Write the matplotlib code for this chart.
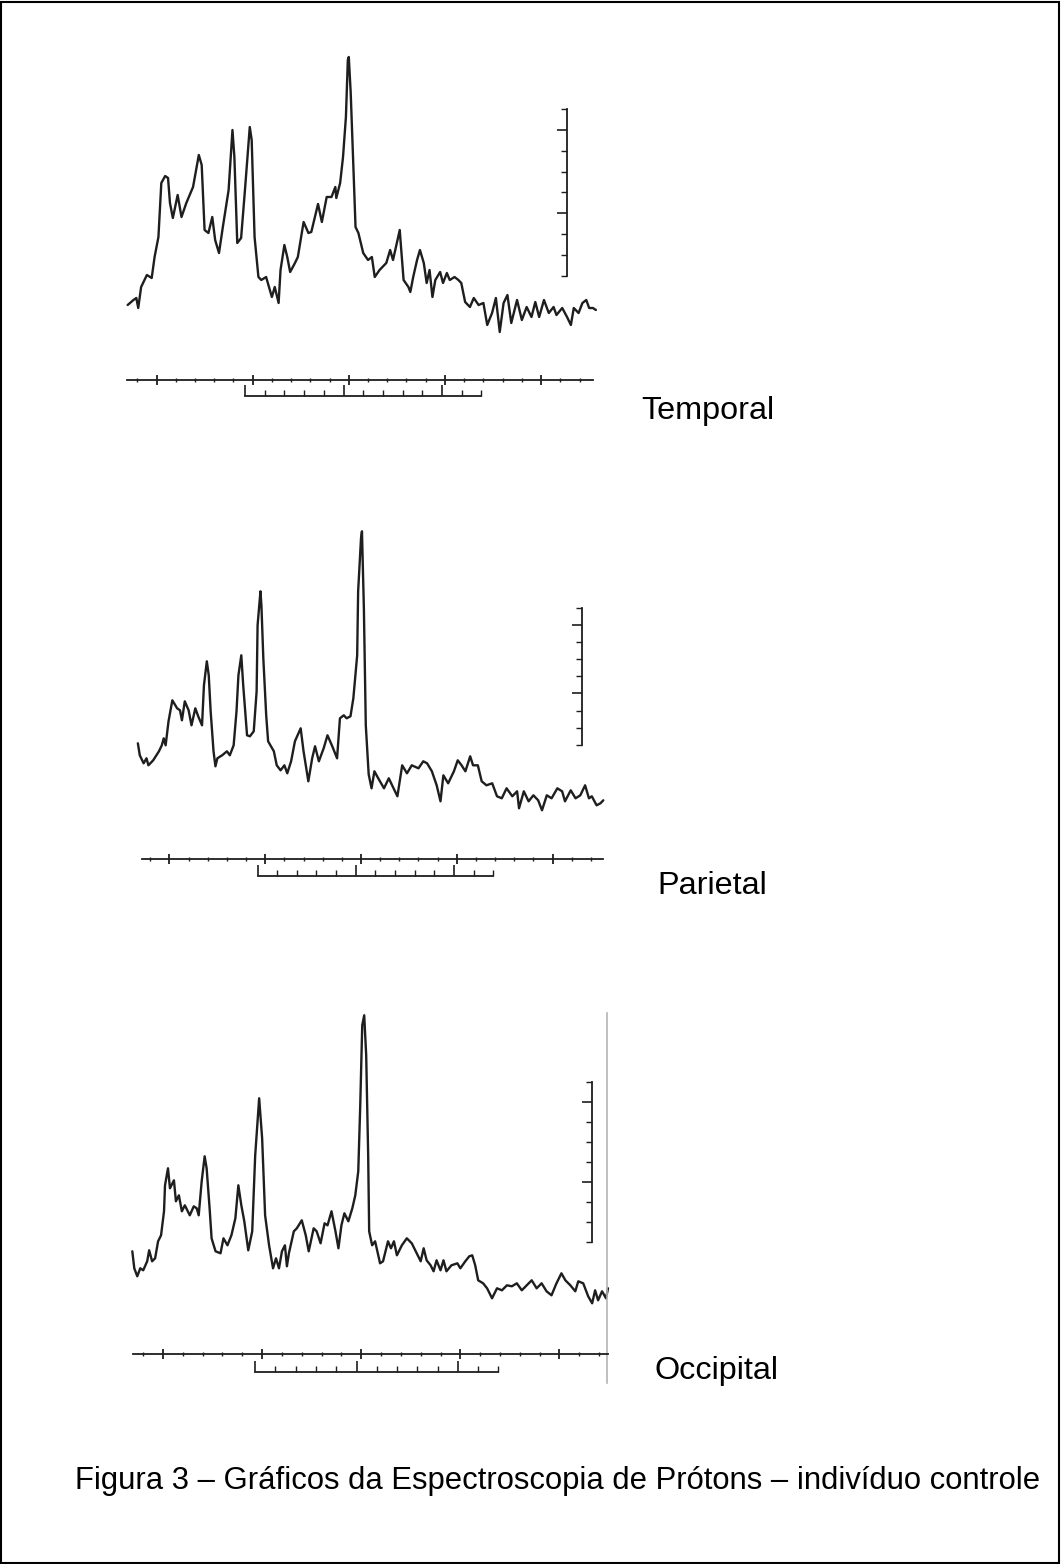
import numpy as np
import matplotlib.pyplot as plt
from matplotlib.patches import Rectangle

plt.rcParams['font.family'] = ['Liberation Sans', 'DejaVu Sans']

# ---- spectra: (ppm, intensity in a.u.) ----
temporal = np.array([
    (4.30, 75), (4.24, 80), (4.21, 82), (4.19, 72), (4.16, 93), (4.10, 105), (4.05, 102),
    (4.02, 123), (3.98, 143), (3.95, 197), (3.91, 204), (3.88, 202), (3.86, 177), (3.83, 162),
    (3.78, 185), (3.74, 163), (3.69, 177), (3.62, 193), (3.56, 225), (3.53, 215), (3.50, 150),
    (3.46, 147), (3.42, 163), (3.39, 140), (3.35, 127), (3.31, 153), (3.25, 190), (3.21, 250),
    (3.19, 223), (3.16, 137), (3.12, 142), (3.08, 190), (3.03, 253), (3.01, 240), (2.98, 143),
    (2.94, 103), (2.91, 100), (2.86, 103), (2.80, 83), (2.77, 93), (2.73, 77), (2.71, 110),
    (2.67, 135), (2.64, 123), (2.61, 108), (2.56, 117), (2.53, 123), (2.47, 158), (2.42, 147),
    (2.39, 148), (2.32, 176), (2.28, 158), (2.23, 183), (2.18, 183), (2.14, 193), (2.13, 182),
    (2.09, 197), (2.06, 223), (2.03, 263), (2.01, 320), (2.00, 323), (1.98, 287), (1.95, 207),
    (1.93, 153), (1.90, 147), (1.85, 127), (1.80, 120), (1.76, 123), (1.73, 103), (1.68, 110),
    (1.61, 117), (1.57, 130), (1.54, 120), (1.47, 150), (1.46, 137), (1.43, 100), (1.38, 93),
    (1.36, 88), (1.33, 103), (1.29, 120), (1.26, 130), (1.22, 117), (1.19, 97), (1.16, 110),
    (1.13, 83), (1.10, 100), (1.05, 108), (1.02, 97), (0.98, 107), (0.95, 100), (0.90, 103),
    (0.86, 100), (0.83, 97), (0.79, 78), (0.74, 73), (0.70, 82), (0.65, 75), (0.60, 77),
    (0.56, 55), (0.51, 67), (0.47, 82), (0.43, 48), (0.39, 77), (0.35, 85), (0.31, 57),
    (0.25, 80), (0.20, 60), (0.15, 73), (0.10, 63), (0.06, 78), (0.02, 63), (-0.03, 80),
    (-0.08, 67), (-0.13, 73), (-0.16, 65), (-0.22, 72), (-0.27, 63), (-0.31, 55), (-0.34, 72),
    (-0.39, 67), (-0.43, 77), (-0.47, 80), (-0.50, 72), (-0.54, 72), (-0.57, 70),
])

parietal = np.array([
    (4.33, 116), (4.31, 104), (4.27, 96), (4.24, 101), (4.22, 94), (4.17, 99), (4.11, 108),
    (4.08, 114), (4.06, 121), (4.04, 114), (4.01, 138), (3.97, 159), (3.92, 151), (3.89, 149),
    (3.87, 139), (3.84, 158), (3.80, 149), (3.77, 134), (3.73, 151), (3.70, 143), (3.66, 134),
    (3.64, 174), (3.61, 198), (3.59, 184), (3.57, 148), (3.54, 108), (3.52, 93), (3.50, 101),
    (3.45, 104), (3.40, 108), (3.37, 104), (3.33, 114), (3.30, 148), (3.28, 184), (3.25, 204),
    (3.23, 174), (3.19, 124), (3.16, 123), (3.12, 128), (3.09, 168), (3.08, 234), (3.05, 268),
    (3.04, 254), (3.02, 201), (2.99, 144), (2.97, 118), (2.91, 108), (2.88, 94), (2.84, 89),
    (2.80, 94), (2.77, 86), (2.73, 98), (2.69, 118), (2.63, 131), (2.60, 108), (2.55, 78),
    (2.51, 101), (2.48, 113), (2.44, 98), (2.39, 111), (2.35, 124), (2.30, 113), (2.25, 101),
    (2.22, 141), (2.18, 144), (2.15, 141), (2.11, 143), (2.08, 161), (2.04, 204), (2.03, 268),
    (2.00, 321), (1.99, 328), (1.97, 251), (1.95, 134), (1.92, 85), (1.89, 71), (1.86, 88),
    (1.82, 81), (1.76, 71), (1.71, 81), (1.66, 71), (1.62, 63), (1.57, 94), (1.52, 86),
    (1.47, 94), (1.40, 91), (1.35, 98), (1.31, 96), (1.26, 88), (1.21, 74), (1.17, 58),
    (1.14, 84), (1.09, 76), (1.03, 88), (0.99, 99), (0.95, 94), (0.91, 88), (0.86, 103),
    (0.83, 94), (0.78, 94), (0.74, 78), (0.69, 74), (0.63, 76), (0.58, 63), (0.53, 61),
    (0.48, 71), (0.42, 63), (0.37, 68), (0.35, 51), (0.30, 68), (0.25, 58), (0.20, 64),
    (0.15, 59), (0.11, 49), (0.06, 64), (0.01, 61), (-0.05, 71), (-0.10, 68), (-0.13, 58),
    (-0.19, 69), (-0.24, 61), (-0.29, 64), (-0.34, 74), (-0.38, 61), (-0.41, 63), (-0.46, 54),
    (-0.50, 56), (-0.53, 59),
])

occipital = np.array([
    (4.31, 103), (4.29, 86), (4.26, 78), (4.23, 86), (4.20, 84), (4.16, 93), (4.14, 104),
    (4.11, 93), (4.08, 96), (4.05, 113), (4.02, 119), (3.99, 143), (3.98, 169), (3.95, 186),
    (3.93, 166), (3.89, 174), (3.87, 153), (3.84, 159), (3.81, 143), (3.78, 149), (3.73, 139),
    (3.69, 148), (3.66, 146), (3.64, 139), (3.61, 173), (3.58, 198), (3.56, 186), (3.53, 146),
    (3.51, 116), (3.47, 103), (3.42, 101), (3.39, 116), (3.35, 109), (3.31, 119), (3.27, 136),
    (3.24, 169), (3.21, 149), (3.18, 133), (3.14, 104), (3.10, 123), (3.07, 199), (3.03, 256),
    (3.00, 216), (2.97, 139), (2.93, 109), (2.89, 86), (2.86, 96), (2.83, 86), (2.80, 103),
    (2.77, 109), (2.75, 88), (2.73, 101), (2.68, 123), (2.65, 126), (2.60, 134), (2.56, 119),
    (2.53, 103), (2.48, 126), (2.45, 123), (2.41, 111), (2.37, 131), (2.34, 129), (2.30, 143),
    (2.26, 123), (2.23, 106), (2.20, 129), (2.17, 141), (2.13, 133), (2.09, 146), (2.06, 159),
    (2.03, 183), (2.01, 249), (1.99, 329), (1.97, 339), (1.95, 299), (1.93, 199), (1.92, 123),
    (1.89, 109), (1.86, 113), (1.81, 91), (1.78, 93), (1.73, 113), (1.70, 106), (1.67, 113),
    (1.64, 99), (1.59, 109), (1.54, 116), (1.49, 111), (1.44, 101), (1.40, 93), (1.37, 106),
    (1.34, 94), (1.30, 89), (1.27, 83), (1.24, 94), (1.20, 84), (1.17, 94), (1.14, 83),
    (1.09, 89), (1.03, 91), (1.00, 86), (0.95, 93), (0.91, 98), (0.88, 99), (0.85, 89),
    (0.82, 74), (0.77, 71), (0.73, 66), (0.68, 56), (0.63, 66), (0.58, 64), (0.53, 69),
    (0.48, 68), (0.43, 71), (0.38, 64), (0.33, 69), (0.28, 74), (0.23, 66), (0.18, 71),
    (0.13, 63), (0.08, 59), (0.03, 71), (-0.02, 81), (-0.06, 74), (-0.11, 69), (-0.16, 63),
    (-0.19, 73), (-0.24, 71), (-0.29, 58), (-0.33, 51), (-0.36, 64), (-0.39, 54), (-0.43, 63),
    (-0.47, 56), (-0.49, 66),
])

temporal_ppm, temporal_int = temporal.T
parietal_ppm, parietal_int = parietal.T
occipital_ppm, occipital_int = occipital.T

labels = ['Temporal', 'Parietal', 'Occipital']
caption = 'Figura 3 – Gráficos da Espectroscopia de Prótons – indivíduo controle'

# ppm axis ticks and the lower bracket scale (12 divisions, long ticks every 5)
ppm_major = [4, 3, 2, 1, 0]
ppm_minor = [x for x in np.round(np.arange(-0.4, 4.21, 0.2), 1) if x not in ppm_major]
bracket_major = [0, 5, 10]
bracket_minor = [1, 2, 3, 4, 6, 7, 8, 9, 11, 12]

# vertical intensity scale bars (a.u.)
temporal_bar = [104, 125, 146, 167, 188, 208, 229, 250, 271]
parietal_bar = [114, 131, 148, 166, 183, 200, 217, 234, 251]
occipital_bar = [112, 132, 152, 172, 192, 212, 232, 252, 272]

INK = '#1e1e1e'
W, H = 1061, 1564


def px_rect(left, top, right, bottom):
    return [left / W, 1 - bottom / H, (right - left) / W, (bottom - top) / H]


def draw_panel(fig, rect, ppm, inten, xlim, ymax, bar_ppm, bar, br_off, br_start, br_step):
    ax = fig.add_axes(rect)
    ax.plot(ppm, inten, color=INK, lw=1.7, clip_on=False,
            solid_joinstyle='round', solid_capstyle='round')

    ax.spines['left'].set_visible(False)
    ax.spines['top'].set_visible(False)
    ax.spines['bottom'].set_linewidth(1.3)
    ax.spines['bottom'].set_color(INK)

    ax.set_xticks(ppm_major)
    ax.set_xticks(ppm_minor, minor=True)
    ax.tick_params(axis='x', which='major', direction='inout', length=7, width=1.3,
                   color=INK, labelbottom=False)
    ax.tick_params(axis='x', which='minor', direction='inout', length=3, width=1.0,
                   color=INK)

    # intensity scale bar
    ax.spines['right'].set_position(('data', bar_ppm))
    ax.spines['right'].set_bounds(bar[0], bar[-1])
    ax.spines['right'].set_linewidth(1.3)
    ax.spines['right'].set_color(INK)
    ax.yaxis.tick_right()
    ax.set_yticks([bar[3], bar[7]])
    ax.set_yticks([b for i, b in enumerate(bar) if i not in (3, 7)], minor=True)
    ax.tick_params(axis='y', which='major', direction='in', length=7, width=1.2,
                   color=INK, labelright=False)
    ax.tick_params(axis='y', which='minor', direction='in', length=4, width=1.0,
                   color=INK)

    ax.set_xlim(*xlim)
    ax.set_ylim(0, ymax)

    # bracket scale under the ppm axis
    sec = ax.secondary_xaxis(-br_off / ymax,
                             functions=(lambda p: (br_start - p) / br_step,
                                        lambda u: br_start - u * br_step))
    sec.spines['bottom'].set_bounds(0, 12)
    sec.spines['bottom'].set_linewidth(1.3)
    sec.spines['bottom'].set_color(INK)
    sec.set_xticks(bracket_major)
    sec.set_xticks(bracket_minor, minor=True)
    sec.tick_params(which='major', direction='in', length=8, width=1.2, color=INK,
                    labelbottom=False)
    sec.tick_params(which='minor', direction='in', length=4.5, width=1.0, color=INK)
    return ax


fig = plt.figure(figsize=(W / 100, H / 100), dpi=100)

draw_panel(fig, px_rect(126.7, 50, 593, 380), temporal_ppm, temporal_int,
           (4.31, -0.54), 330, -0.27, temporal_bar, 16, 3.08, 0.205)
draw_panel(fig, px_rect(141.7, 525, 603.3, 859.3), parietal_ppm, parietal_int,
           (4.29, -0.53), 334.3, -0.31, parietal_bar, 16.7, 3.08, 0.205)
ax3 = draw_panel(fig, px_rect(133.3, 1005, 608, 1354.3), occipital_ppm, occipital_int,
                 (4.30, -0.49), 349.3, -0.33, occipital_bar, 18, 3.07, 0.2045)
# edge of the scanned occipital picture
ax3.axvline(-0.484, ymin=-0.082, ymax=0.977, color='#b4b4b4', lw=1.2, clip_on=False)

fig.text(641 / W, 1 - 411 / H, labels[0], fontsize=23.3, va='center', color='black')
fig.text(657 / W, 1 - 886 / H, labels[1], fontsize=23.3, va='center', color='black')
fig.text(655 / W, 1 - 1371 / H, labels[2], fontsize=23.3, va='center', color='black')
fig.text(75 / W, 1 - 1481 / H, caption, fontsize=22.3, va='center', color='black')

fig.add_artist(Rectangle((1 / W, 1 / H), (W - 3) / W, (H - 3) / H,
                         transform=fig.transFigure, fill=False, lw=1.5, ec='black'))

fig.savefig('out.png', dpi=100)
